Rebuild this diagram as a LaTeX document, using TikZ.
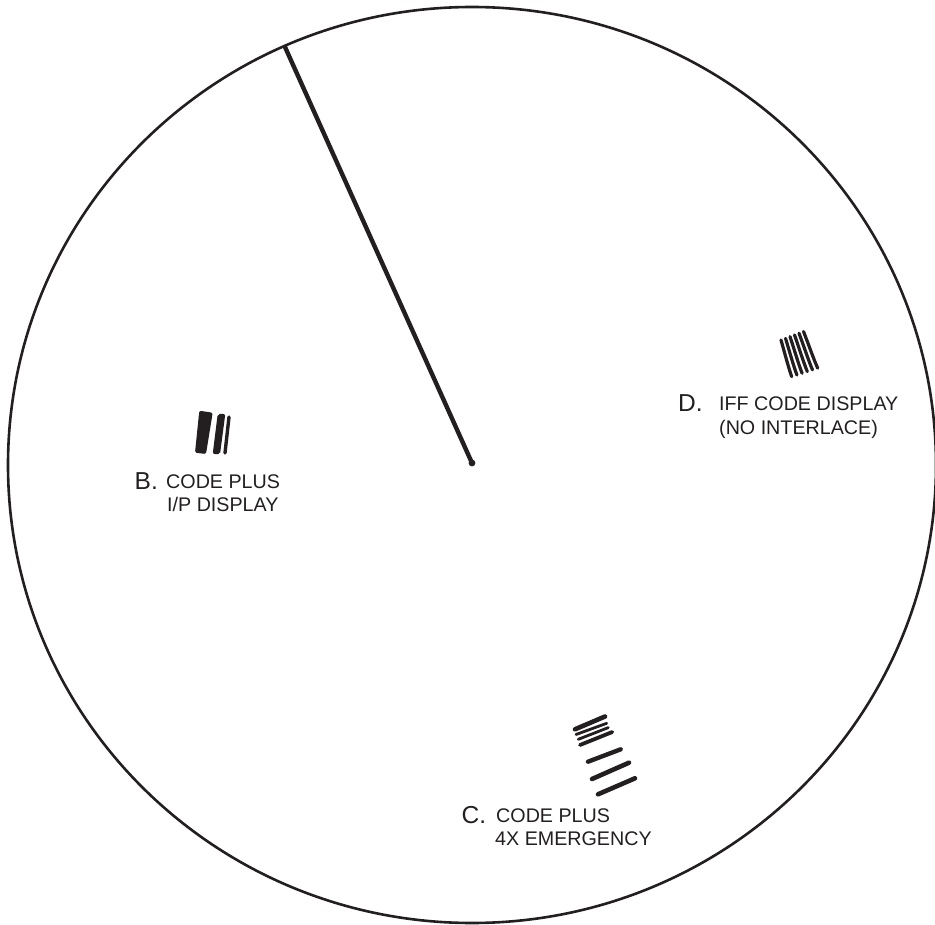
\documentclass[tikz,border=0pt]{standalone}
\usepackage{fontspec}
\setmainfont{Liberation Sans}
\definecolor{inkc}{HTML}{231F20}
\tikzset{
 ring/.style={draw=inkc,line width=2.6pt},
 hand/.style={draw=inkc,line width=4.4pt,line cap=round},
 bar/.style={draw=inkc,line cap=round},
 fatbar/.style={fill=inkc,rounded corners=2pt},
 lett/.style={inner sep=0pt,anchor=base west,text=inkc,font=\fontsize{24.5}{24.5}\selectfont},
 captext/.style={inner sep=0pt,anchor=base west,text=inkc,font=\fontsize{19.7}{19.7}\selectfont,align=left}
}
\begin{document}
\begin{tikzpicture}[x=1pt,y=-1pt]
\useasboundingbox (0,0) rectangle (935,925);
\clip (0,0) rectangle (935,925);
\coordinate (cc) at (472,465);
\draw[ring] (cc) ellipse[x radius=464,y radius=458];
\coordinate (hubc) at (472,463);
\coordinate (rim) at (285,47);
\draw[hand] (rim) -- (hubc);
\fill[inkc] (hubc) circle[radius=3.4];
% B
\path[fatbar] (199.3,410.7) -- (212.7,412.7) -- (206,454) -- (195,452.7) -- cycle;
\path[fatbar] (217.7,414) -- (225.3,414) -- (220,454.3) -- (212.7,454) -- cycle;
\draw[bar,line width=3.4pt] (229,417) -- (225,453);
% D
\foreach \i in {0,...,5}
  \draw[bar,line width=3.2pt] ({781+\i*4.5},{340-\i*1.7}) .. controls ({785+\i*4.8},{354-\i*1.7}) and ({788+\i*5},{366-\i*1.7}) .. ({791.7+\i*5.2},{376.7-\i*1.7});
% C
\foreach \a/\b/\c/\d/\w in {575/729.3/605/716.5/4.6, 576/734.5/606.7/723.3/2.8, 578.3/739.3/608.3/727.6/2.8, 580/745/612.3/732/3.8, 588/761.7/620.7/749.3/4.4, 592/779/629/762.7/4.6, 598/794.3/635/778.3/4.6}
  \draw[bar,line width=\w pt] (\a,\b) -- (\c,\d);
% labels
\node[lett] (lb) at (134.5,489.3) {B.};
\node[captext] (tb1) at (166,488.3) {CODE PLUS};
\node[captext] (tb2) at (167,511.7) {I/P DISPLAY};
\node[lett] (lc) at (461.5,823) {C.};
\node[captext] (tc1) at (496,822.5) {CODE PLUS};
\node[captext] (tc2) at (495,845.7) {4X EMERGENCY};
\node[lett] (ld) at (678,411) {D.};
\node[captext] (td1) at (719,410.5) {IFF CODE DISPLAY};
\node[captext] (td2) at (719,434.3) {(NO INTERLACE)};
\end{tikzpicture}
\end{document}
